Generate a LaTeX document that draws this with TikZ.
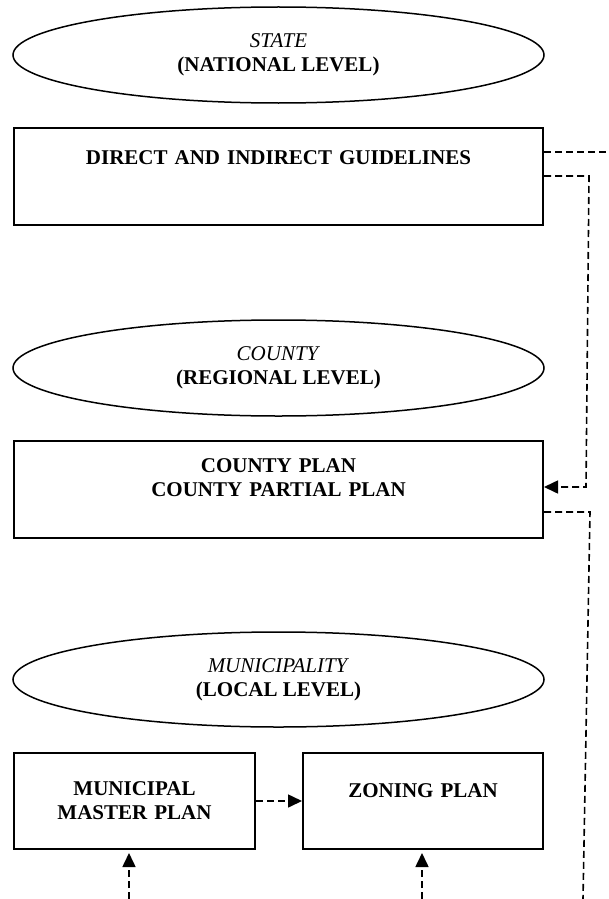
\documentclass[tikz,border=0pt]{standalone}
\usepackage{fontspec}
\setmainfont{Liberation Serif}
\usetikzlibrary{arrows.meta,shapes.geometric,calc}
\newcommand{\planfont}{\fontsize{21}{24}\selectfont}

\tikzset{
  tierellipse/.style={draw, ellipse, line width=1.5pt, inner sep=0pt, minimum width=531pt, minimum height=96pt, align=center},
  planbox/.style={draw, rectangle, line width=2pt, anchor=north west, inner sep=0pt, align=center, font=\planfont\bfseries},
  dashline/.style={line width=1.6pt, dash pattern=on 7pt off 4pt},
  flowtip/.style={-{Triangle[length=14pt,width=13pt]}}
}

\begin{document}
\begin{tikzpicture}[x=1pt, y=-1pt, font=\planfont]
\useasboundingbox (0,0) rectangle (608,899);

% Levels
\node[tierellipse] (state) at (278.5,55) {\textit{STATE}\\\textbf{(NATIONAL LEVEL)}};
\node[tierellipse] (region) at (278.5,368) {\textit{COUNTY}\\\textbf{(REGIONAL LEVEL)}};
\node[tierellipse, minimum height=95pt] (local) at (278.5,679.5) {\textit{MUNICIPALITY}\\\textbf{(LOCAL LEVEL)}};

% Plans
\node[planbox, text width=529pt, text height=36.6pt, text depth=60.4pt] (guide) at (13,127) {DIRECT AND INDIRECT GUIDELINES};
\node[planbox, text width=529pt, text height=31.6pt, text depth=65.4pt] (county) at (13,440) {COUNTY PLAN\\COUNTY PARTIAL PLAN};
\node[planbox, text width=241pt, text height=42.6pt, text depth=53.4pt] (master) at (13,752) {MUNICIPAL\\MASTER PLAN};
\node[planbox, text width=240pt, text height=44.6pt, text depth=51.4pt] (zoning) at (302,752) {ZONING PLAN};

% Routing points
\coordinate (edgeout) at (608,152);
\coordinate (bendA) at (589,176);
\coordinate (bendB) at (586,487);
\coordinate (bendC) at (590,512);
\coordinate (footR) at (583,899);
\coordinate (footL) at (129,899);
\coordinate (footM) at (422,899);

% Connectors
\draw[dashline] (guide.east |- edgeout) -- (edgeout);
\draw[dashline, flowtip] (guide.east |- bendA) -- (bendA) -- (bendB) -- (county.east |- bendB);
\draw[dashline] (county.east |- bendC) -- (bendC) -- (footR);
\draw[dashline, flowtip] (master.east) -- (zoning.west);
\draw[dashline, flowtip, shorten >=3pt] (footL) -- (master.south -| footL);
\draw[dashline, flowtip, shorten >=3pt] (footM) -- (zoning.south -| footM);
\end{tikzpicture}
\end{document}
